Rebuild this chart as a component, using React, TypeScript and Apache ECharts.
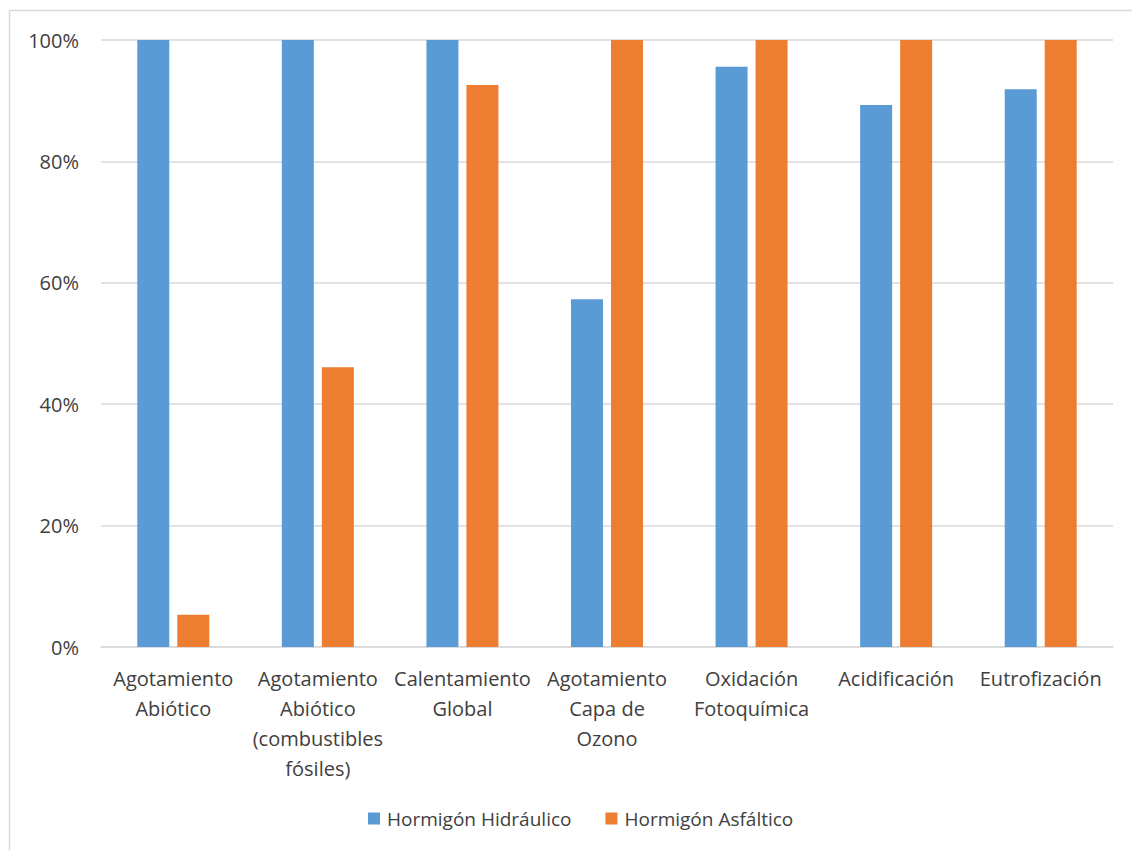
import React, { useEffect, useRef } from "react";
import * as echarts from "echarts";

const categories = [
  "Agotamiento\nAbiótico",
  "Agotamiento\nAbiótico\n(combustibles\nfósiles)",
  "Calentamiento\nGlobal",
  "Agotamiento\nCapa de\nOzono",
  "Oxidación\nFotoquímica",
  "Acidificación",
  "Eutrofización",
];
const hidraulico = [100, 100, 100, 57.3, 95.6, 89.3, 91.9];
const asfaltico = [5.3, 46.1, 92.6, 100, 100, 100, 100];
const seriesNames = ["Hormigón Hidráulico", "Hormigón Asfáltico"];
const colors = ["#5b9bd5", "#ed7d31"];

const FONT = "'Open Sans', Lato, sans-serif";
const TEXT = "#404040";

export default function App() {
  const ref = useRef<HTMLDivElement>(null);
  useEffect(() => {
    document.body.style.margin = "0";
    const chart = echarts.init(ref.current!, undefined, { renderer: "svg" });
    chart.setOption({
      animation: false,
      backgroundColor: "#ffffff",
      textStyle: { fontFamily: FONT },
      graphic: [
        {
          type: "rect",
          shape: { x: 9.5, y: 10.5, width: 1200, height: 900 },
          style: { fill: "none", stroke: "#d9d9d9", lineWidth: 1.5 },
          silent: true,
          z: -10,
        },
      ],
      grid: { left: 101, right: 19, top: 40, bottom: 203, containLabel: false },
      legend: {
        bottom: 22,
        left: 368,
        padding: 0,
        itemWidth: 12,
        itemHeight: 12,
        itemGap: 34,
        icon: "rect",
        textStyle: { color: TEXT, fontSize: 19, fontFamily: FONT, padding: [0, 0, 0, 2] },
        data: seriesNames,
      },
      xAxis: {
        type: "category",
        data: categories,
        axisLine: { lineStyle: { color: "#d9d9d9", width: 1.5 } },
        axisTick: { show: false },
        axisLabel: {
          interval: 0,
          color: TEXT,
          fontSize: 20,
          fontFamily: FONT,
          lineHeight: 30,
          margin: 16,
        },
      },
      yAxis: {
        type: "value",
        min: 0,
        max: 100,
        interval: 20,
        axisLine: { show: false },
        axisTick: { show: false },
        splitLine: { lineStyle: { color: "#d9d9d9", width: 1.5 } },
        axisLabel: {
          formatter: (v: number) => v + "%",
          color: TEXT,
          fontSize: 20,
          fontFamily: FONT,
          margin: 22,
        },
      },
      series: [
        {
          name: seriesNames[0],
          type: "bar",
          data: hidraulico,
          barWidth: 32,
          barGap: "25%",
          itemStyle: { color: colors[0] },
        },
        {
          name: seriesNames[1],
          type: "bar",
          data: asfaltico,
          barWidth: 32,
          barGap: "25%",
          itemStyle: { color: colors[1] },
        },
      ],
    });
    return () => chart.dispose();
  }, []);
  return (
    <div
      ref={ref}
      style={{ position: "absolute", left: 0, top: 0, width: 1132, height: 850 }}
    />
  );
}
